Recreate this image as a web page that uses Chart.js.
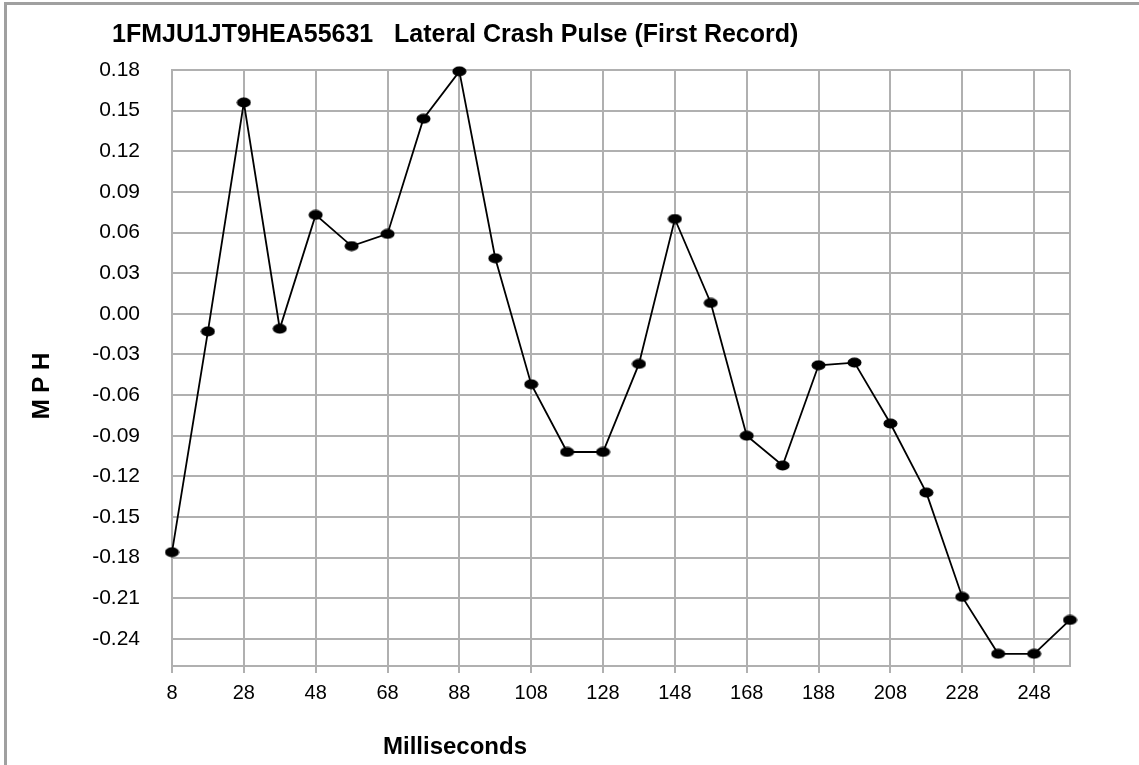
<!DOCTYPE html>
<html>
<head>
<meta charset="utf-8">
<script src="https://cdn.jsdelivr.net/npm/chart.js@4.4.1/dist/chart.umd.min.js"></script>
<style>
  html, body { margin: 0; padding: 0; background: #fff; }
  #wrap { width: 1139px; height: 765px; position: relative; }
</style>
</head>
<body>
<div id="wrap"><canvas id="c" width="1139" height="765"></canvas></div>
<script>
// ---- data ----
const titleText = '1FMJU1JT9HEA55631   Lateral Crash Pulse (First Record)';
const xTitle = 'Milliseconds';
const yTitle = 'M P H';
const milliseconds = [8, 18, 28, 38, 48, 58, 68, 78, 88, 98, 108, 118, 128, 138, 148, 158, 168, 178, 188, 198, 208, 218, 228, 238, 248, 258];
const mph = [-0.176, -0.013, 0.156, -0.011, 0.073, 0.050, 0.059, 0.144, 0.179, 0.041, -0.052, -0.102, -0.102, -0.037, 0.070, 0.008, -0.090, -0.112, -0.038, -0.036, -0.081, -0.132, -0.209, -0.251, -0.251, -0.226];
const xTickValues = [8, 28, 48, 68, 88, 108, 128, 148, 168, 188, 208, 228, 248];
const yTickValues = [0.18, 0.15, 0.12, 0.09, 0.06, 0.03, 0.00, -0.03, -0.06, -0.09, -0.12, -0.15, -0.18, -0.21, -0.24];
const yMin = -0.26, yMax = 0.18;

// ellipse marker
const marker = document.createElement('canvas');
marker.width = 15; marker.height = 11;
(function(){
  const m = marker.getContext('2d');
  m.fillStyle = '#000';
  m.beginPath();
  m.ellipse(7.5, 5.5, 7, 5, 0, 0, Math.PI * 2);
  m.fill();
})();

const GRID = '#b0b0b0';
const FONT = '"Liberation Sans", Arial, sans-serif';

const decor = {
  id: 'decor',
  beforeDraw(chart) {
    const ctx = chart.ctx;
    ctx.save();
    ctx.fillStyle = '#fff';
    ctx.fillRect(0, 0, chart.width, chart.height);
    // outer frame (left + top)
    ctx.fillStyle = '#a0a0a0';
    ctx.fillRect(4, 2, chart.width - 4, 3);
    ctx.fillRect(4, 2, 3, chart.height - 2);
    ctx.restore();
  },
  beforeDatasetsDraw(chart) {
    const ctx = chart.ctx, a = chart.chartArea;
    ctx.save();
    ctx.strokeStyle = GRID;
    ctx.lineWidth = 2;
    ctx.beginPath();
    ctx.moveTo(a.right, a.top);
    ctx.lineTo(a.right, a.bottom);
    ctx.stroke();
    ctx.restore();
  },
  afterDraw(chart) {
    const ctx = chart.ctx;
    ctx.save();
    ctx.fillStyle = '#000';
    ctx.font = 'bold 25px ' + FONT;
    ctx.textAlign = 'left';
    ctx.textBaseline = 'alphabetic';
    ctx.fillText(titleText, 112, 42);
    ctx.font = 'bold 24px ' + FONT;
    ctx.textAlign = 'center';
    ctx.fillText(xTitle, 455, 754);
    ctx.translate(49, 386);
    ctx.rotate(-Math.PI / 2);
    ctx.fillText(yTitle, 0, 0);
    ctx.restore();
  }
};

new Chart(document.getElementById('c'), {
  type: 'line',
  data: {
    datasets: [{
      data: milliseconds.map((x, i) => ({ x: x, y: mph[i] })),
      borderColor: '#000',
      borderWidth: 1.8,
      pointStyle: marker,
      pointRadius: 7,
      tension: 0,
      fill: false,
      clip: false
    }]
  },
  options: {
    responsive: false,
    animation: false,
    devicePixelRatio: 1,
    layout: { padding: { left: 0, top: 70, right: 69, bottom: 0 } },
    plugins: { legend: { display: false }, title: { display: false }, tooltip: { enabled: false } },
    scales: {
      x: {
        type: 'linear',
        min: 8, max: 258,
        afterBuildTicks(s) { s.ticks = xTickValues.map(v => ({ value: v })); },
        afterFit(s) { s.height = 99; },
        grid: { color: GRID, lineWidth: 2, drawTicks: true, tickLength: 7, tickColor: GRID },
        border: { display: true, color: GRID, width: 2 },
        ticks: { color: '#000', font: { family: FONT, size: 20 }, padding: 8, maxRotation: 0, autoSkip: false,
          callback: v => String(v) }
      },
      y: {
        type: 'linear',
        min: yMin, max: yMax,
        afterBuildTicks(s) { s.ticks = yTickValues.map(v => ({ value: v })); },
        afterFit(s) { s.width = 172; },
        grid: { color: GRID, lineWidth: 2, drawTicks: false },
        border: { display: true, color: GRID, width: 2 },
        ticks: { color: '#000', font: { family: FONT, size: 21 }, padding: 32, autoSkip: false,
          callback: v => v.toFixed(2) }
      }
    }
  },
  plugins: [decor]
});
</script>
</body>
</html>
